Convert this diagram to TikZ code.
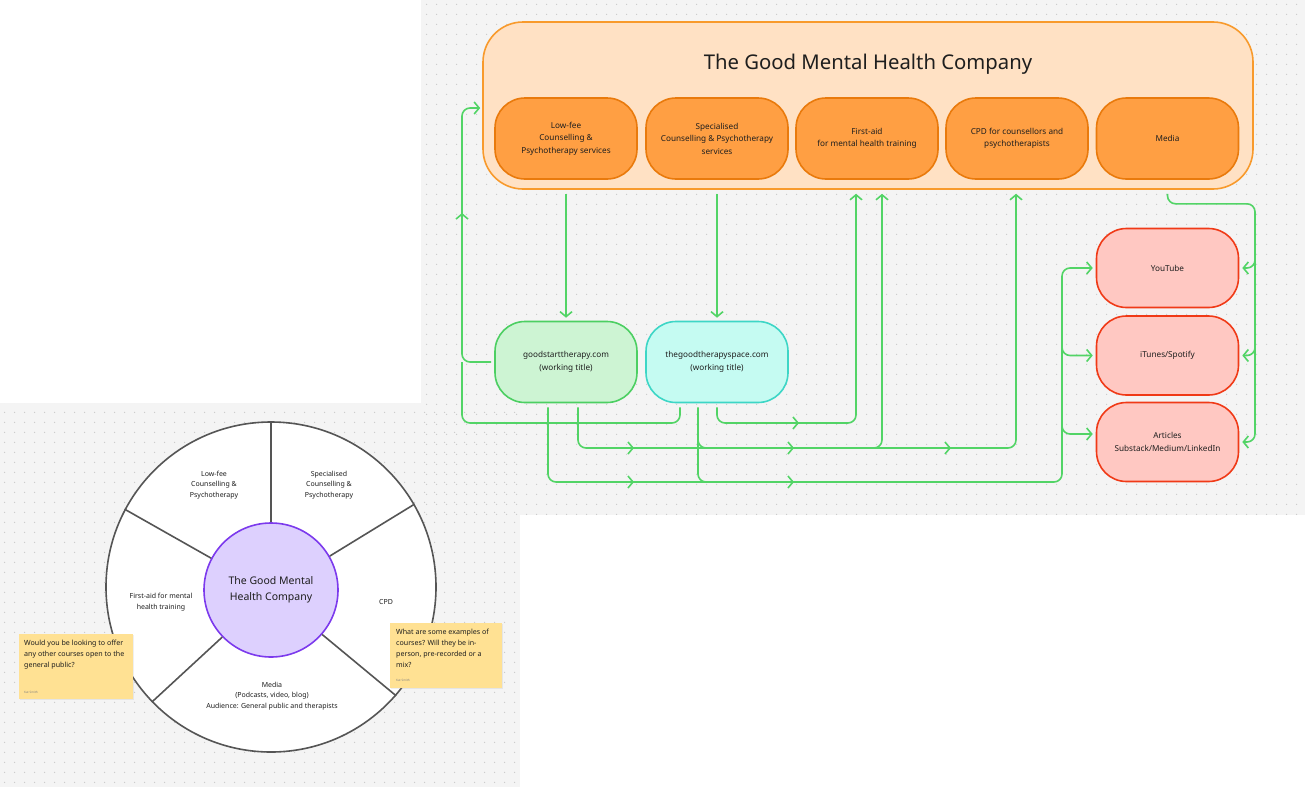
\documentclass[tikz,border=0pt]{standalone}
\usepackage{fontspec}
\setmainfont{Noto Sans}
\usetikzlibrary{arrows.meta,patterns.meta,shadows,calc}

\definecolor{panelbg}{HTML}{F4F4F4}
\definecolor{dotgray}{HTML}{C8C8C8}
\definecolor{compfill}{HTML}{FFE1C4}
\definecolor{compdraw}{HTML}{F89A2C}
\definecolor{orfill}{HTML}{FF9F43}
\definecolor{ordraw}{HTML}{E97A0C}
\definecolor{grfill}{HTML}{CDF4D3}
\definecolor{grdraw}{HTML}{4CCF62}
\definecolor{cyfill}{HTML}{C5FBF2}
\definecolor{cydraw}{HTML}{3DD6C6}
\definecolor{rdfill}{HTML}{FFC8C2}
\definecolor{rddraw}{HTML}{F03A17}
\definecolor{link}{HTML}{52D466}
\definecolor{wheelline}{HTML}{555555}
\definecolor{hubfill}{HTML}{DDD0FE}
\definecolor{hubdraw}{HTML}{7C3AED}
\definecolor{stickyfill}{HTML}{FFE193}
\definecolor{ink}{HTML}{1E1E1E}

\tikzdeclarepattern{
  name=griddots,
  type=uncolored,
  bounding box={(0pt,0pt) and (9.6pt,9.6pt)},
  tile size={(9.6pt,9.6pt)},
  code={\fill (4.8pt,4.8pt) circle (0.7pt);}
}

\begin{document}
\begin{tikzpicture}[x=1pt,y=-1pt,
  every node/.style={text=ink},
  panel/.style={fill=panelbg, draw=none},
  dots/.style={pattern=griddots, pattern color=dotgray},
  company/.style={rectangle, rounded corners=40pt, fill=compfill, draw=compdraw, line width=1.6pt,
                  minimum width=770pt, minimum height=167pt},
  pill/.style={rectangle, rounded corners=30pt, line width=1.6pt, minimum width=142pt,
               minimum height=81pt, align=center, font=\fontsize{8.2}{12.5}\selectfont},
  orbox/.style={pill, fill=orfill, draw=ordraw},
  grbox/.style={pill, fill=grfill, draw=grdraw},
  cybox/.style={pill, fill=cyfill, draw=cydraw},
  rdbox/.style={pill, fill=rdfill, draw=rddraw, minimum height=79pt},
  conn/.style={draw=link, line width=1.6pt, rounded corners=8pt},
  arr/.style={-{Straight Barb[length=5pt,width=12pt]}},
  midarr/.style={draw=link, line width=1.6pt, -{Straight Barb[length=5pt,width=12pt]}},
  wheel/.style={circle, fill=white, draw=wheelline, line width=1.6pt, minimum size=330pt},
  hub/.style={circle, fill=hubfill, draw=hubdraw, line width=1.6pt, minimum size=134pt,
              align=center, font=\fontsize{10.5}{16}\selectfont},
  spoke/.style={draw=wheelline, line width=1.6pt},
  wlabel/.style={align=center, font=\fontsize{7}{10.7}\selectfont, inner sep=0pt},
  sticky/.style={rectangle, fill=stickyfill, draw=none,
                 drop shadow={opacity=0.12, shadow xshift=0.8pt, shadow yshift=-1pt}},
  stickytext/.style={align=left, anchor=north west, inner sep=0pt, font=\fontsize{7.1}{10.8}\selectfont},
  author/.style={anchor=west, inner sep=0pt, text=gray, font=\fontsize{3}{3}\selectfont}
]
\useasboundingbox (0,0) rectangle (1305,787);

% background panels
\fill[panel] (421,0) rectangle (1305,515);
\fill[panel] (0,403) rectangle (520,787);
\fill[dots] (421,0) rectangle (1305,515);
\fill[dots] (0,403) rectangle (520,787);

% ---------- top flow chart ----------
\node[company] (company) at (868,105.5) {};
\node[font=\fontsize{20.3}{24}\selectfont] (title) at (868,64) {The Good Mental Health Company};

\node[orbox] (lowfee)   at (566,138.5) {Low-fee\\Counselling \&\\Psychotherapy services};
\node[orbox] (special)  at (717,138.5) {Specialised\\Counselling \& Psychotherapy\\services};
\node[orbox] (firstaid) at (867,138.5) {First-aid\\for mental health training};
\node[orbox] (cpd)      at (1017,138.5) {CPD for counsellors and\\psychotherapists};
\node[orbox] (media)    at (1167.5,138.5) {Media};

\node[grbox] (gst) at (566,362) {goodstarttherapy.com\\(working title)};
\node[cybox] (tgs) at (717,362) {thegoodtherapyspace.com\\(working title)};

\node[rdbox] (yt)       at (1167.5,268) {YouTube};
\node[rdbox] (itunes)   at (1167.5,355.5) {iTunes/Spotify};
\node[rdbox] (articles) at (1167.5,442) {Articles\\Substack/Medium/LinkedIn};

% helper coordinates
\coordinate (rowB) at (0,423);
\coordinate (rowC) at (0,448);
\coordinate (rowD) at (0,482);
\coordinate (laneL) at (462,0);
\coordinate (laneR) at (1062,0);
\coordinate (laneM) at (1255,0);
\coordinate (fa1) at ($(firstaid.south)+(-11,14)$);
\coordinate (fa2) at ($(firstaid.south)+(15,14)$);
\coordinate (cp)  at ($(cpd.south)+(-1,14)$);
\coordinate (g1) at ($(gst.south)+(12,4)$);
\coordinate (g2) at ($(gst.south)+(-18,4)$);
\coordinate (t1) at ($(tgs.south)+(-37,4)$);
\coordinate (t2) at ($(tgs.south)+(-19,4)$);
\coordinate (t3) at ($(tgs.south)+(0,4)$);
\coordinate (m1) at ($(media.south)+(0,14)$);
\coordinate (m2) at ($(media.south)+(0,24)$);

% services down to sites
\draw[conn,arr] ($(lowfee.south)+(0,14)$) -- ($(gst.north)+(0,-3)$);
\draw[conn,arr] ($(special.south)+(0,14)$) -- ($(tgs.north)+(0,-3)$);

% left loop back to company
\draw[conn,arr,shorten >=2pt] ($(gst.west)+(-3,0)$) -- (laneL |- gst.west) -- (laneL |- 0,108) -- (company.west |- 0,108);
\draw[conn] (t1) -- (t1 |- rowB) -- (laneL |- rowB) -- (laneL |- gst.west);
\draw[midarr] (462,222) -- (462,213);

% to first-aid and CPD
\draw[conn,arr] (g1) -- (g1 |- rowC) -- (fa2 |- rowC) -- (fa2);
\draw[conn,arr] ($(fa2 |- rowC)+(-30,0)$) -- (cp |- rowC) -- (cp);
\draw[conn,arr] (t3) -- (t3 |- rowB) -- (fa1 |- rowB) -- (fa1);
\draw[conn] ($(t2)+(0,12)$) -- (t2 |- rowC) -- ($(t2 |- rowC)+(40,0)$);
\draw[conn] (t2) -- (t2 |- rowD) -- ($(t2 |- rowD)+(40,0)$);

% to media channels
\draw[conn,arr,shorten >=3pt] (g2) -- (g2 |- rowD) -- (laneR |- rowD) -- (laneR |- yt.west) -- (yt.west);
\draw[conn,arr,shorten >=3pt] ($(laneR |- itunes.west)+(0,-30)$) -- (laneR |- itunes.west) -- (itunes.west);
\draw[conn,arr,shorten >=3pt] ($(laneR |- articles.west)+(0,-38)$) -- ($(laneR |- articles.west)+(0,-8)$) -- ($(articles.west)+(0,-8)$);

\draw[conn,arr,shorten >=3pt] (m1) -- (m2) -- (laneM |- m2) -- (laneM |- articles.east) -- (articles.east);
\draw[conn,arr,shorten >=3pt] ($(laneM |- yt.east)+(0,-30)$) -- (laneM |- yt.east) -- (yt.east);
\draw[conn,arr,shorten >=3pt] ($(laneM |- itunes.east)+(0,-30)$) -- (laneM |- itunes.east) -- (itunes.east);

% mid-line arrows
\draw[midarr] (626,448) -- (634,448);
\draw[midarr] (786,448) -- (794,448);
\draw[midarr] (943,448) -- (951,448);
\draw[midarr] (626,482) -- (634,482);
\draw[midarr] (786,482) -- (794,482);
\draw[midarr] (791,423) -- (799,423);

% ---------- wheel ----------
\node[wheel] (wheel) at (271,587) {};
\node[hub] (hub) at (271,590) {The Good Mental\\Health Company};
\foreach \a in {90,30,-41,-136,152} \draw[spoke] (hub.\a) -- (wheel.\a);

\node[wlabel] (wLow)   at (214,485) {Low-fee\\Counselling \&\\Psychotherapy};
\node[wlabel] (wSpec)  at (329,485) {Specialised\\Counselling \&\\Psychotherapy};
\node[wlabel] (wFA)    at (161,602) {First-aid for mental\\health training};
\node[wlabel] (wCPD)   at (386,602) {CPD};
\node[wlabel] (wMedia) at (272,696) {Media\\(Podcasts, video, blog)\\Audience: General public and therapists};

% ---------- sticky notes ----------
\node[sticky, minimum width=114pt, minimum height=65pt] (note1) at (76,666.5) {};
\node[stickytext] (note1t) at (24,640) {Would you be looking to offer\\any other courses open to the\\general public?};
\node[author] (note1a) at (24,692) {Kat Smith};

\node[sticky, minimum width=112pt, minimum height=65pt] (note2) at (446,655.5) {};
\node[stickytext] (note2t) at (396,629) {What are some examples of\\courses? Will they be in-\\person, pre-recorded or a\\mix?};
\node[author] (note2a) at (396,680) {Kat Smith};
\end{tikzpicture}
\end{document}
